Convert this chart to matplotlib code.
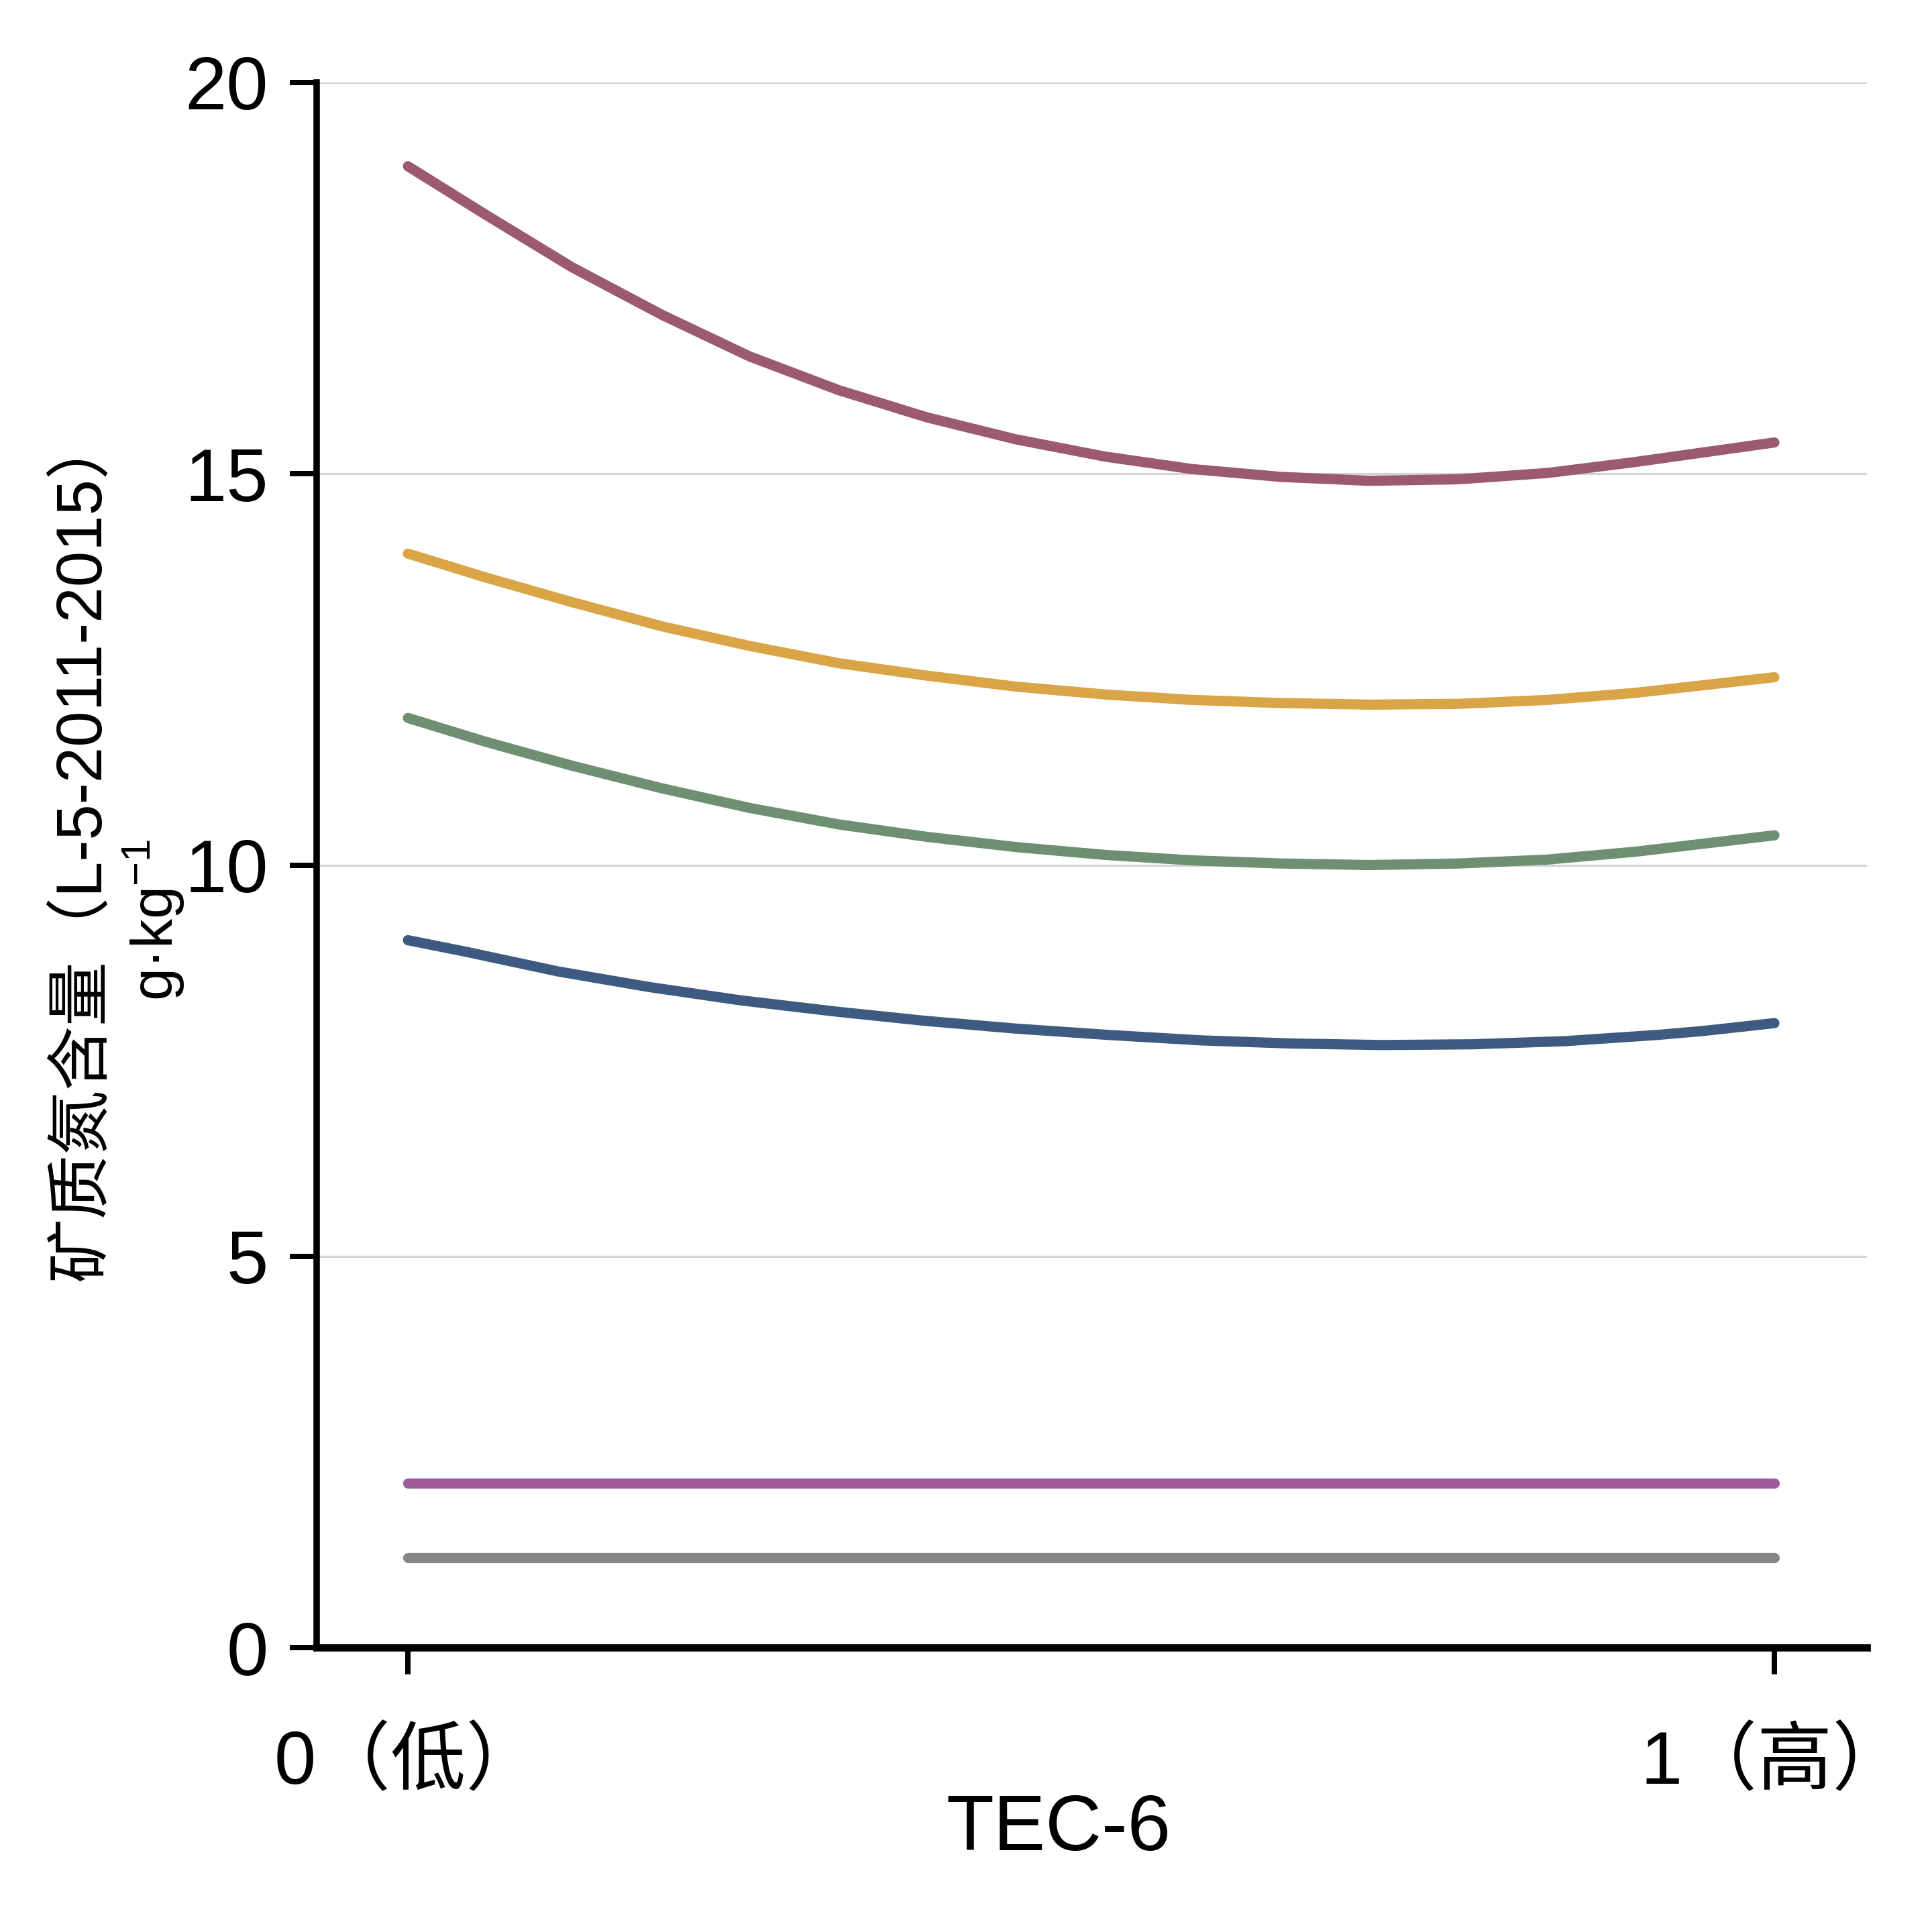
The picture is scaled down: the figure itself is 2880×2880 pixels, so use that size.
import matplotlib
matplotlib.use("Agg")
import matplotlib.pyplot as plt

plt.rcParams['font.family'] = ['Liberation Sans', 'Noto Sans CJK SC', 'DejaVu Sans']
plt.rcParams['mathtext.fontset'] = 'custom'
plt.rcParams['mathtext.rm'] = 'Liberation Sans'
plt.rcParams['mathtext.it'] = 'Liberation Sans'

# ---- data ----
t_grid = [0.0, 0.056, 0.12, 0.186, 0.25, 0.315, 0.38, 0.445, 0.51, 0.574,
          0.639, 0.704, 0.769, 0.834, 0.898, 1.0]
red_vals = [18.93, 18.32, 17.64, 17.03, 16.50, 16.07, 15.72, 15.44, 15.22, 15.06,
            14.96, 14.91, 14.93, 15.01, 15.15, 15.40]
yellow_vals = [13.98, 13.68, 13.36, 13.05, 12.80, 12.58, 12.42, 12.28, 12.18, 12.11,
               12.07, 12.05, 12.06, 12.11, 12.20, 12.40]
green_vals = [11.88, 11.58, 11.27, 10.98, 10.73, 10.52, 10.36, 10.23, 10.13, 10.06,
              10.02, 10.00, 10.02, 10.07, 10.17, 10.38]
blue_t = [0.0, 0.043, 0.11, 0.177, 0.244, 0.312, 0.378, 0.445, 0.512, 0.58,
          0.646, 0.713, 0.78, 0.847, 0.915, 0.948, 1.0]
blue_vals = [9.04, 8.89, 8.64, 8.44, 8.27, 8.13, 8.01, 7.91, 7.83, 7.76,
             7.72, 7.70, 7.71, 7.75, 7.83, 7.88, 7.98]
t_flat = [0.0, 1.0]
purple_vals = [2.10, 2.10]
gray_vals = [1.15, 1.15]

x_ticks = [0, 1]
x_ticklabels = ['0（低）', '1（高）']
y_ticks = [0, 5, 10, 15, 20]
y_ticklabels = ['0', '5', '10', '15', '20']
xlabel = 'TEC-6'
ylabel_line1 = '矿质氮含量（L-5-2011-2015）'
ylabel_line2 = r'g·kg$^{-1}$'

series = [
    (t_grid, red_vals, '#9B5A6E'),
    (t_grid, yellow_vals, '#D9A546'),
    (t_grid, green_vals, '#6F8F73'),
    (blue_t, blue_vals, '#3F5A80'),
    (t_flat, purple_vals, '#A05C9A'),
    (t_flat, gray_vals, '#858585'),
]

fig = plt.figure(figsize=(10, 10), dpi=288)
ax = fig.add_axes([0.1639, 0.1472, 0.8024, 0.8101])

for xs, ys, c in series:
    ax.plot(xs, ys, color=c, lw=3.8, solid_capstyle='round', solid_joinstyle='round', zorder=3)

ax.set_xlim(-0.0668, 1.0677)
ax.set_ylim(0, 20)
ax.set_yticks(y_ticks)
ax.set_yticklabels(y_ticklabels)
ax.set_xticks(x_ticks)
ax.set_xticklabels(x_ticklabels)

ax.yaxis.grid(True, color='#d4d4d4', lw=0.8, zorder=0)
ax.set_axisbelow(True)

for s in ['top', 'right']:
    ax.spines[s].set_visible(False)
ax.spines['left'].set_linewidth(2.4)
ax.spines['bottom'].set_linewidth(2.7)

ax.tick_params(axis='y', length=10, width=2, pad=8, labelsize=28, colors='black')
ax.tick_params(axis='x', length=10, width=2, pad=20, labelsize=28, colors='black')

fig.text(0.548, 0.0424, xlabel, ha='center', va='baseline', fontsize=29)
fig.text(0.0427, 0.5615, ylabel_line1, rotation=90, ha='center', va='center', fontsize=24)
fig.text(0.080, 0.524, ylabel_line2, rotation=90, ha='center', va='center', fontsize=22)

fig.savefig('out.png', dpi=288, facecolor='white')
